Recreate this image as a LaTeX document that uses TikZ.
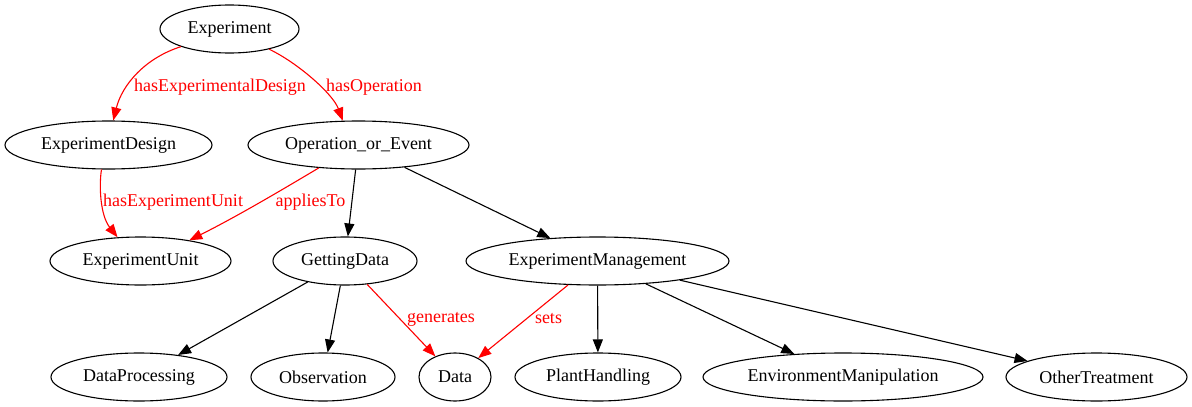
\documentclass[tikz,border=0pt]{standalone}
\usepackage{fontspec}
\setmainfont{Liberation Serif}
\usetikzlibrary{shapes.geometric,arrows.meta}
\begin{document}
\begin{tikzpicture}[x=1pt,y=-1pt,
  nd/.style={ellipse,draw,line width=1.1pt,inner sep=0pt,minimum height=48pt,font=\fontsize{18}{20}\selectfont},
  ed/.style={line width=1.1pt,-{Triangle[length=13pt,width=10pt]}},
  rededge/.style={ed,red},
  lbl/.style={text=red,font=\fontsize{18}{20}\selectfont,inner sep=0pt}]
\useasboundingbox (0,0) rectangle (1192,407);
\node[nd,minimum width=139pt] (exp) at (229.5,29) {Experiment};
\node[nd,minimum width=207pt] (design) at (108.5,145) {ExperimentDesign};
\node[nd,minimum width=221pt] (op) at (358.5,145) {Operation\_or\_Event};
\node[nd,minimum width=181pt] (eu) at (140.5,261) {ExperimentUnit};
\node[nd,minimum width=144pt] (gd) at (345,261) {GettingData};
\node[nd,minimum width=263pt] (em) at (597.5,261) {ExperimentManagement};
\node[nd,minimum width=176pt] (dp) at (139,377) {DataProcessing};
\node[nd,minimum width=144pt] (obs) at (323,377) {Observation};
\node[nd,minimum width=72pt] (data) at (455,377) {Data};
\node[nd,minimum width=166pt] (ph) at (598,377) {PlantHandling};
\node[nd,minimum width=280pt] (env) at (843,377) {EnvironmentManipulation};
\node[nd,minimum width=181pt] (ot) at (1096.5,377) {OtherTreatment};

\draw[rededge] (exp.200) .. controls (145,58) and (122,85) .. (design.79);
\draw[rededge] (exp.-27.5) .. controls (298,63) and (333,94) .. (op.123);
\draw[rededge] (design.-106) .. controls (99,185) and (100,215) .. (eu.134);
\draw[rededge] (op.210) .. controls (290,185) and (240,215) .. (eu.23);
\draw[ed] (op) -- (gd);
\draw[ed] (op) -- (em);
\draw[ed] (gd) -- (dp);
\draw[ed] (gd) -- (obs);
\draw[rededge] (gd) -- (data);
\draw[rededge] (em) -- (data);
\draw[ed] (em) -- (ph);
\draw[ed] (em) -- (env);
\draw[ed] (em) -- (ot);

\node[lbl] (l1) at (220,87) {hasExperimentalDesign};
\node[lbl] (l2) at (374,87) {hasOperation};
\node[lbl] (l3) at (173,202) {hasExperimentUnit};
\node[lbl] (l4) at (310.5,202) {appliesTo};
\node[lbl] (l5) at (441,319) {generates};
\node[lbl] (l6) at (548.5,319) {sets};
\end{tikzpicture}
\end{document}
